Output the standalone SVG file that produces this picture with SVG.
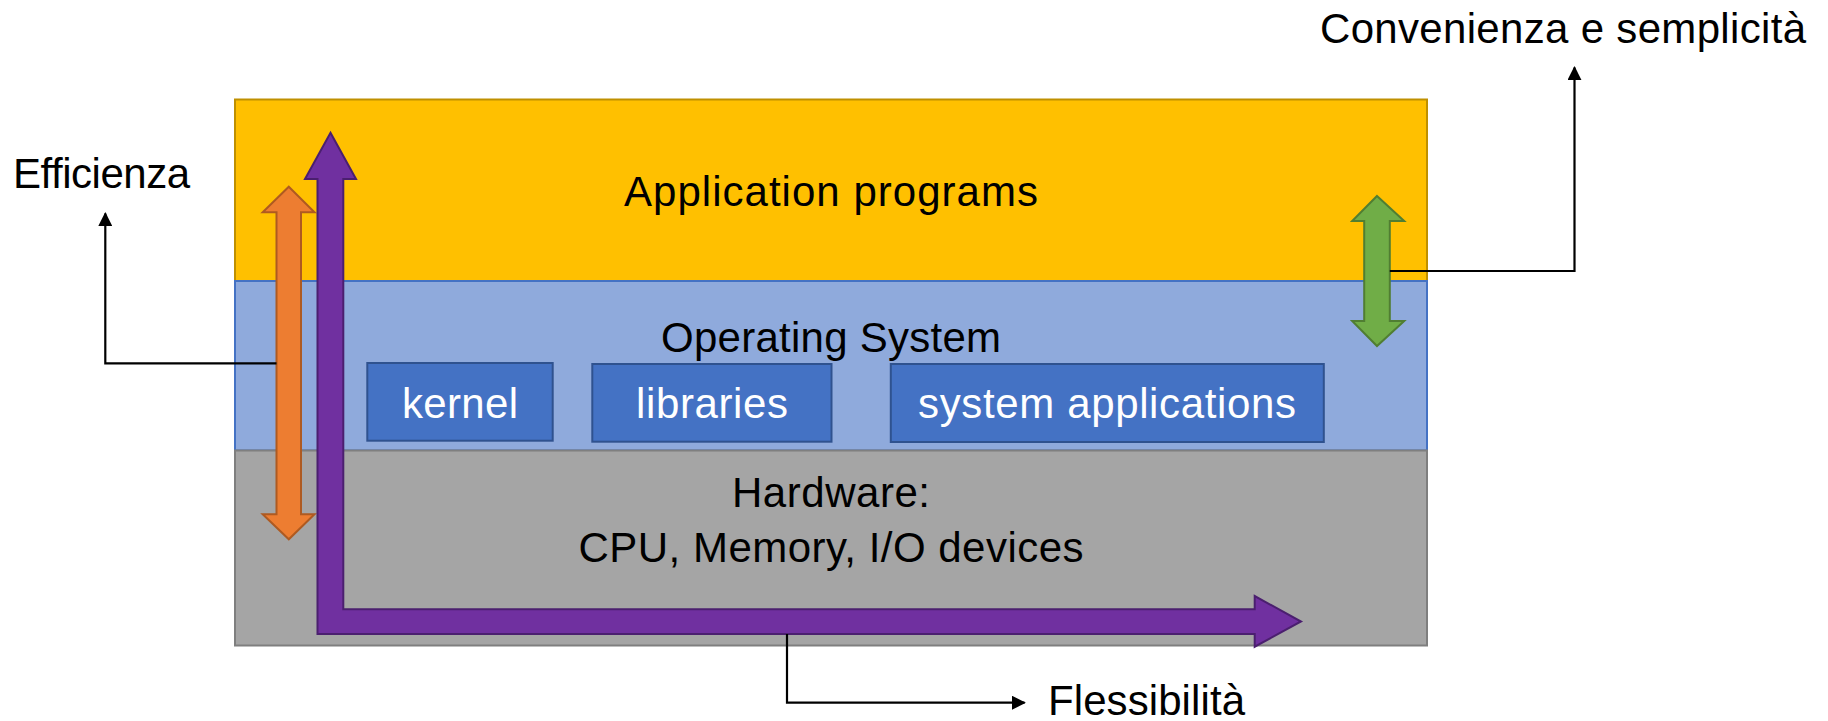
<svg xmlns="http://www.w3.org/2000/svg" width="1828" height="721" viewBox="0 0 1828 721">
<defs>
<style>
text{font-family:"Liberation Sans",Arial,sans-serif;font-size:42px;fill:#000}
.w{fill:#fff}
.c{text-anchor:middle}
.conn{fill:none;stroke:#000;stroke-width:2.2}
.box{fill:#4472C4;stroke:#2F528F;stroke-width:2}
</style>
<marker id="ah" viewBox="0 0 10 10" refX="9" refY="5" markerWidth="14" markerHeight="14" markerUnits="userSpaceOnUse" orient="auto">
<path d="M0,0 L10,5 L0,10 z" fill="#000"/>
</marker>
</defs>
<rect width="1828" height="721" fill="#fff"/>
<g id="app-layer">
<rect x="235" y="99.5" width="1192" height="181.5" fill="#FFC000" stroke="#BF9000" stroke-width="2"/>
<text class="c" x="831" y="206" textLength="414">Application programs</text>
</g>
<g id="os-layer">
<rect x="235" y="281" width="1192" height="169.5" fill="#8FAADC" stroke="#4472C4" stroke-width="2"/>
<text class="c" x="831" y="352.3" textLength="340">Operating System</text>
</g>
<g id="hw-layer">
<rect x="235" y="450.5" width="1192" height="195" fill="#A5A5A5" stroke="#7F7F7F" stroke-width="2"/>
<text class="c" x="831" y="506.7" textLength="198">Hardware:</text>
<text class="c" x="831" y="561.7" textLength="505">CPU, Memory, I/O devices</text>
</g>
<g id="kernel">
<rect class="box" x="367.3" y="363" width="185.4" height="77.7"/>
<text class="c w" x="460" y="418.3" textLength="116">kernel</text>
</g>
<g id="libraries">
<rect class="box" x="592.3" y="364" width="239.2" height="77.7"/>
<text class="c w" x="712" y="418.3" textLength="152">libraries</text>
</g>
<g id="system-applications">
<rect class="box" x="890.8" y="364" width="433" height="78"/>
<text class="c w" x="1107" y="418.3" textLength="378">system applications</text>
</g>
<g id="efficienza-arrow">
<path d="M288.8,186.7 L314.5,212.3 L301,212.3 L301,514.3 L314.5,514.3 L288.8,539.3 L262.7,514.3 L276.5,514.3 L276.5,212.3 L262.7,212.3 Z" fill="#ED7D31" stroke="#AE5A21" stroke-width="2"/>
</g>
<g id="flessibilita-arrow">
<path d="M330.5,132.7 L356,179 L343.3,179 L343.3,609.3 L1254.7,609.3 L1254.7,596 L1301,621.5 L1254.7,646.7 L1254.7,634 L317.5,634 L317.5,179 L305,179 Z" fill="#7030A0" stroke="#4B1F6F" stroke-width="2"/>
</g>
<g id="convenienza-arrow">
<path d="M1377,196 L1404.2,221 L1389.8,221 L1389.8,321 L1404.2,321 L1377,346 L1352.2,321 L1364.2,321 L1364.2,221 L1352.2,221 Z" fill="#70AD47" stroke="#507E32" stroke-width="2"/>
</g>
<g id="connectors">
<polyline class="conn" points="276.5,363.3 105.3,363.3 105.3,213.5" marker-end="url(#ah)"/>
<polyline class="conn" points="1389.8,271 1574.5,271 1574.5,67.5" marker-end="url(#ah)"/>
<polyline class="conn" points="787,634 787,702.7 1024.5,702.7" marker-end="url(#ah)"/>
</g>
<g id="labels">
<text x="13" y="187.7" textLength="177">Efficienza</text>
<text x="1320" y="42.7" textLength="486">Convenienza e semplicità</text>
<text x="1048" y="715" textLength="197">Flessibilità</text>
</g>
</svg>
